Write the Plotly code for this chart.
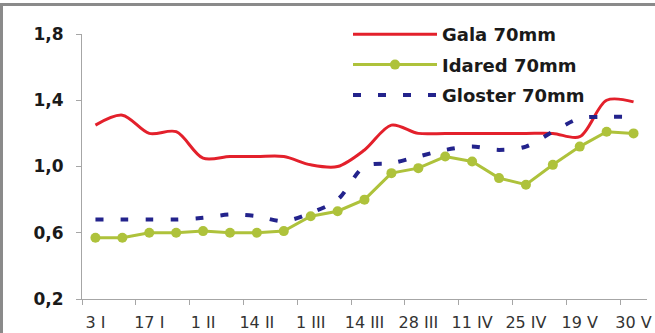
import plotly.graph_objects as go

# Sampling dates (labels on every second sample)
tick_labels = ["3 I", "17 I", "1 II", "14 II", "1 III", "14 III", "28 III",
               "11 IV", "25 IV", "19 V", "30 V"]
n_samples = 21
x_idx = list(range(n_samples))

gala = [1.25, 1.31, 1.20, 1.21, 1.05, 1.06, 1.06, 1.06, 1.01, 1.00, 1.10,
        1.25, 1.20, 1.20, 1.20, 1.20, 1.20, 1.20, 1.18, 1.40, 1.39]
idared = [0.57, 0.57, 0.60, 0.60, 0.61, 0.60, 0.60, 0.61, 0.70, 0.73, 0.80,
          0.96, 0.99, 1.06, 1.03, 0.93, 0.89, 1.01, 1.12, 1.21, 1.20]
gloster = [0.68, 0.68, 0.68, 0.68, 0.69, 0.71, 0.70, 0.67, 0.72, 0.80, 1.00,
           1.02, 1.06, 1.10, 1.12, 1.10, 1.12, 1.21, 1.29, 1.30, 1.30]

y_ticks = [0.2, 0.6, 1.0, 1.4, 1.8]

W, H = 655, 333
L, R, T, B = 82, 8, 34, 34
pw, ph = W - L - R, H - T - B

FONT = "DejaVu Sans, Liberation Sans, sans-serif"
AXIS_COLOR = "#a6a6a6"

fig = go.Figure()

fig.add_trace(go.Scatter(
    x=x_idx, y=gala, name="Gala 70mm", mode="lines", legendgroup="gala",
    line=dict(color="#e3202b", width=3, shape="spline", smoothing=0.9),
))
fig.add_trace(go.Scatter(
    x=x_idx, y=idared, name="Idared 70mm", mode="lines+markers", legendgroup="idared",
    line=dict(color="#aec23b", width=3),
    marker=dict(color="#aec23b", size=10),
))
fig.add_trace(go.Scatter(
    x=x_idx, y=gloster, name="Gloster 70mm", mode="lines", legendgroup="gloster",
    line=dict(color="#23238c", width=4, dash="8px,17px", shape="spline", smoothing=0.9),
))

# Secondary x axis carries the boundary tick marks every two samples
fig.add_trace(go.Scatter(x=[None], y=[None], xaxis="x2", showlegend=False, hoverinfo="skip"))

x_range = [-0.5, n_samples - 0.5]
boundary_ticks = [i - 0.5 for i in x_idx[::2]]

fig.update_layout(
    width=W, height=H,
    margin=dict(l=L, r=R, t=T, b=B, autoexpand=False),
    paper_bgcolor="white", plot_bgcolor="white",
    font=dict(family=FONT, color="#222222"),
    xaxis=dict(
        range=x_range, tickmode="array",
        tickvals=x_idx[::2], ticktext=tick_labels,
        ticks="", showgrid=False, zeroline=False, automargin=False,
        showline=True, linecolor=AXIS_COLOR, linewidth=1,
        tickfont=dict(family=FONT, size=16, color="#333333"),
        ticklabelstandoff=9,
    ),
    xaxis2=dict(
        range=x_range, overlaying="x", side="bottom", automargin=False,
        tickmode="array", tickvals=boundary_ticks,
        showticklabels=False, ticks="outside", ticklen=5, tickcolor=AXIS_COLOR,
        showgrid=False, zeroline=False, showline=False,
    ),
    yaxis=dict(
        range=[0.2, 1.8], tickmode="array", tickvals=y_ticks,
        ticktext=[f"{v:.1f}".replace(".", ",") for v in y_ticks],
        ticks="outside", ticklen=5, tickcolor=AXIS_COLOR, automargin=False,
        showgrid=False, zeroline=False,
        showline=True, linecolor=AXIS_COLOR, linewidth=1,
        tickfont=dict(family=FONT, size=17, color="#1a1a1a", weight="bold"),
        ticklabelstandoff=9,
    ),
    legend=dict(
        x=(348 - L) / pw, y=(H - B - 16) / ph, xanchor="left", yanchor="top",
        bgcolor="rgba(0,0,0,0)", itemwidth=84, tracegroupgap=4,
        font=dict(family=FONT, size=18, color="#1a1a1a", weight="bold"),
    ),
    shapes=[
        dict(type="line", xref="paper", yref="paper",
             x0=(0 - L) / pw, x1=(W - L) / pw,
             y0=(H - B - 4.5) / ph, y1=(H - B - 4.5) / ph,
             line=dict(color="#8a8a8a", width=3)),
        dict(type="line", xref="paper", yref="paper",
             x0=(1.5 - L) / pw, x1=(1.5 - L) / pw,
             y0=(H - B - 3) / ph, y1=(H - B - H) / ph,
             line=dict(color="#8a8a8a", width=3)),
    ],
    showlegend=True,
)

fig.write_html("out.html")
